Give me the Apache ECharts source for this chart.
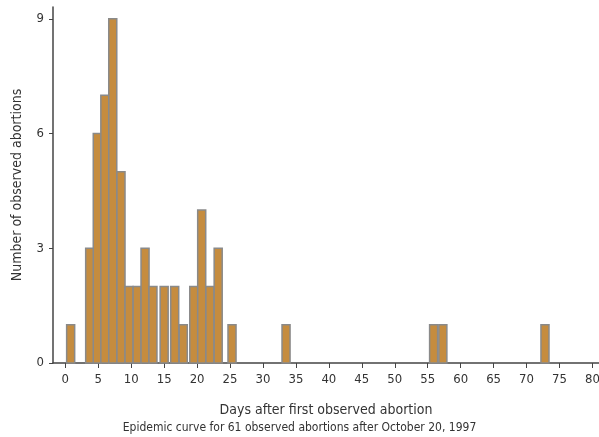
<!DOCTYPE html>
<html>
<head>
<meta charset="utf-8">
<script src="https://cdn.jsdelivr.net/npm/echarts@6/dist/echarts.min.js"></script>
<style>
html, body { margin: 0; padding: 0; background: #fff; }
#chart { width: 599px; height: 437px; }
</style>
</head>
<body>
<div id="chart"></div>
<script>
// bar centres (days after first abortion) and counts
var days = [0.81, 3.7, 4.85, 6.0, 7.2, 8.45, 9.67, 10.9, 12.1, 13.3, 15.0, 16.6, 17.9,
	19.5, 20.7, 21.95, 23.2, 25.3, 33.5, 55.9, 57.3, 72.8];
var counts = [1, 3, 6, 7, 9, 5, 2, 2, 3, 2, 2, 2, 1, 2, 4, 2, 3, 1, 1, 1, 1, 1];
var xTicks = [0, 5, 10, 15, 20, 25, 30, 35, 40, 45, 50, 55, 60, 65, 70, 75, 80];
var yTicks = [0, 3, 6, 9];

var BAR_W = 1.22;
var FONT = "'Liberation Sans Narrow', 'DejaVu Sans Condensed', sans-serif";

var data = [];
for (var i = 0; i < days.length; i++) {
	data.push([days[i], counts[i]]);
}

function renderBar(params, api) {
	var c = api.value(0);
	var v = api.value(1);
	var p0 = api.coord([c - BAR_W / 2, v]);
	var p1 = api.coord([c + BAR_W / 2, 0]);
	return {
		type : 'rect',
		shape : { x : p0[0], y : p0[1], width : p1[0] - p0[0], height : p1[1] - p0[1] },
		style : { fill : '#C58C3F', stroke : '#8a8a8a', lineWidth : 1.5 }
	};
}

var myChart = echarts.init(document.getElementById('chart'));
var option = {
	animation : false,
	title : {
		text : 'Epidemic curve for 61 observed abortions after October 20, 1997',
		left : 'center',
		top : 422,
		padding : 0,
		textStyle : { fontFamily : FONT, fontSize : 12, fontWeight : 'normal', color : '#333' }
	},
	grid : { left : 53, right : 0, top : 7, bottom : 74, containLabel : false, outerBoundsMode : 'none' },
	xAxis : {
		type : 'value',
		min : -1.87,
		max : 81,
		name : 'Days after first observed abortion',
		nameLocation : 'middle',
		nameGap : 40,
		nameTextStyle : { fontFamily : FONT, fontSize : 14, color : '#333' },
		splitLine : { show : false },
		axisLine : { lineStyle : { color : '#444', width : 1.5 } },
		axisTick : { customValues : xTicks, length : 5, lineStyle : { color : '#444' } },
		axisLabel : { customValues : xTicks, margin : 10, fontFamily : FONT, fontSize : 13, color : '#333' }
	},
	yAxis : {
		type : 'value',
		min : 0,
		max : 9.31,
		name : 'Number of observed abortions',
		nameLocation : 'middle',
		nameGap : 29,
		nameTextStyle : { fontFamily : FONT, fontSize : 14, color : '#333' },
		splitLine : { show : false },
		axisLine : { show : true, onZero : false, lineStyle : { color : '#444', width : 1.5 } },
		axisTick : { show : true, customValues : yTicks, length : 4, lineStyle : { color : '#444' } },
		axisLabel : { customValues : yTicks, margin : 9, fontFamily : FONT, fontSize : 13, color : '#333' }
	},
	series : [ {
		type : 'custom',
		renderItem : renderBar,
		encode : { x : 0, y : 1 },
		data : data
	} ]
};
myChart.setOption(option);
</script>
</body>
</html>
